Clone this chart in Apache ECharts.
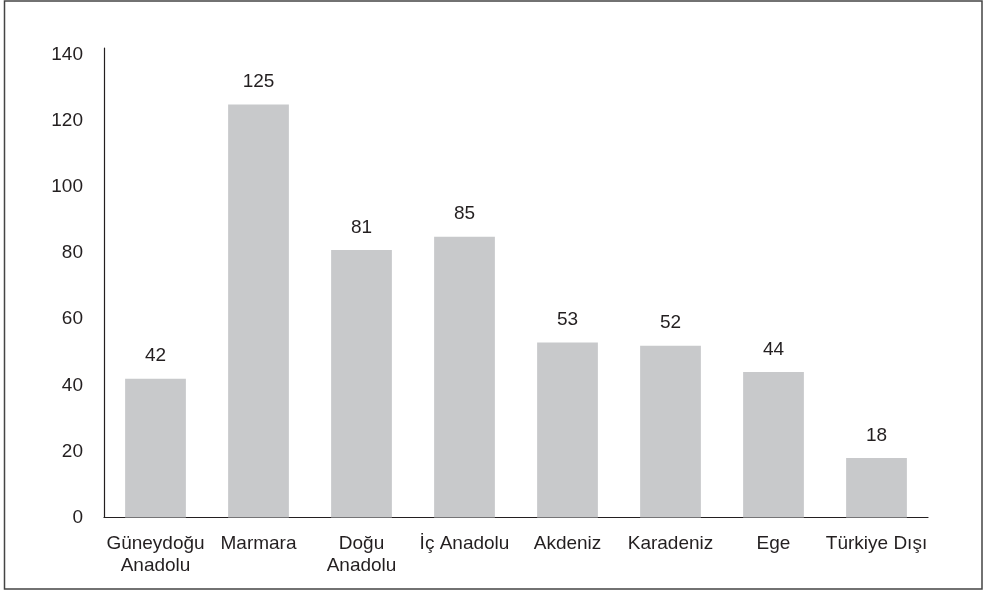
<!DOCTYPE html>
<html>
<head>
<meta charset="utf-8">
<script src="https://cdn.jsdelivr.net/npm/echarts@6/dist/echarts.min.js"></script>
<style>
  html, body { margin: 0; padding: 0; background: #fff; }
  #chart { width: 984px; height: 591px; }
</style>
</head>
<body>
<div id="chart"></div>
<script>
// Regions (two-line labels where the name wraps)
const regions = ['Güneydoğu\nAnadolu', 'Marmara', 'Doğu\nAnadolu', 'İç Anadolu', 'Akdeniz', 'Karadeniz', 'Ege', 'Türkiye Dışı'];
const counts = [42, 125, 81, 85, 53, 52, 44, 18];
const yTicks = [0, 20, 40, 60, 80, 100, 120, 140];

const textColor = '#231f20';
const fontFamily = '"Liberation Sans", Arial, Helvetica, sans-serif';

const chart = echarts.init(document.getElementById('chart'), null, { renderer: 'canvas' });
chart.setOption({
  animation: false,
  backgroundColor: '#ffffff',
  graphic: [{
    type: 'rect',
    shape: { x: 4.5, y: 1, width: 977.5, height: 588 },
    style: { fill: 'none', stroke: '#444', lineWidth: 1.5 },
    silent: true
  }],
  grid: { left: 104, right: 56, top: 48, bottom: 73.5, containLabel: false },
  xAxis: {
    type: 'category',
    data: regions,
    axisLine: { show: true, lineStyle: { color: textColor, width: 1.2 } },
    axisTick: { show: false },
    axisLabel: {
      interval: 0,
      margin: 15,
      color: textColor,
      fontSize: 19,
      lineHeight: 22,
      fontFamily: fontFamily
    }
  },
  yAxis: {
    type: 'value',
    min: yTicks[0],
    max: 142.1,
    interval: 20,
    axisLine: { show: true, lineStyle: { color: textColor, width: 1.2 } },
    axisTick: { show: false },
    splitLine: { show: false },
    axisLabel: {
      showMaxLabel: false,
      margin: 21,
      color: textColor,
      fontSize: 19,
      fontFamily: fontFamily,
      formatter: v => (yTicks.includes(v) ? String(v) : '')
    }
  },
  series: [{
    type: 'bar',
    data: counts,
    barWidth: '59%',
    itemStyle: { color: '#c8c9cb' },
    label: {
      show: true,
      position: 'top',
      distance: 13,
      color: textColor,
      fontSize: 19,
      fontFamily: fontFamily
    }
  }]
});
</script>
</body>
</html>
